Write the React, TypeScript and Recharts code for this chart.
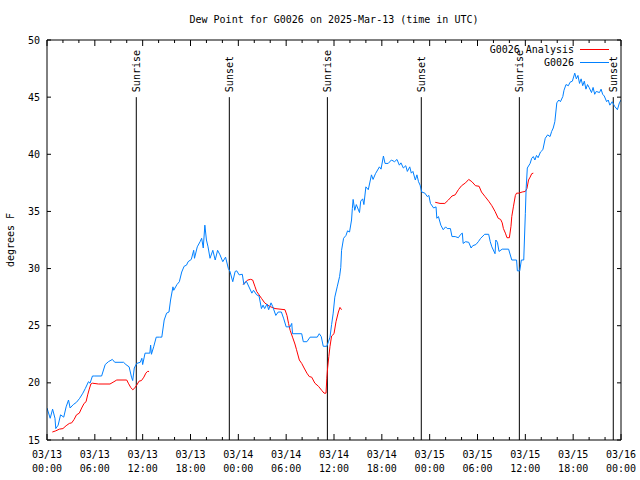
import React from 'react';
import { LineChart, Line, XAxis, YAxis, ReferenceLine, Legend, Label } from 'recharts';

const FONT = '"DejaVu Sans Mono", "Liberation Mono", monospace';

const chartTitle = 'Dew Point for G0026 on 2025-Mar-13 (time in UTC)';
const yAxisTitle = 'degrees F';

const seriesNames = ['G0026 Analysis', 'G0026'];
const seriesColors = ['#ff0000', '#0080ff'];

// x axis: hours since 2025-03-13 00:00 UTC
const xTickHours = [0, 2, 4, 6, 8, 10, 12, 14, 16, 18, 20, 22, 24, 26, 28, 30, 32, 34, 36, 38, 40, 42, 44, 46, 48, 50, 52, 54, 56, 58, 60, 62, 64, 66, 68, 70, 72];
const dateLabels = ['03/13', '03/13', '03/13', '03/13', '03/14', '03/14', '03/14', '03/14', '03/15', '03/15', '03/15', '03/15', '03/16'];
const timeLabels = ['00:00', '06:00', '12:00', '18:00', '00:00', '06:00', '12:00', '18:00', '00:00', '06:00', '12:00', '18:00', '00:00'];
const yTicks = [15, 20, 25, 30, 35, 40, 45, 50];

const eventNames = ['Sunrise', 'Sunset', 'Sunrise', 'Sunset', 'Sunrise', 'Sunset'];
const eventHours = [11.2, 22.87, 35.17, 46.95, 59.25, 71.03];

// G0026 observations
const obsHours = [
  0.0, 0.4, 0.7, 1.0, 1.1, 1.4, 1.7, 2.1, 2.4, 2.7, 2.9, 3.3, 3.7, 4.1, 4.5, 4.8, 5.2, 5.4, 5.7, 6.0,
  6.85, 7.3, 7.7, 8.2, 8.5, 9.6, 9.9, 10.3, 10.6, 10.75, 10.95, 11.25, 11.7, 11.9, 12.0, 12.3, 12.9, 13.0, 13.1, 13.4,
  13.7, 14.1, 14.4, 14.7, 15.0, 15.3, 15.5, 15.8, 15.9, 16.3, 16.6, 16.9, 17.2, 17.5, 17.7, 18.1, 18.4, 18.5, 18.85, 19.2,
  19.4, 19.6, 19.8, 20.0, 20.2, 20.45, 20.8, 21.1, 21.4, 21.7, 22.05, 22.4, 22.75, 22.95, 23.3, 23.6, 23.8, 24.1, 24.5, 24.7,
  25.0, 25.4, 25.7, 25.9, 26.3, 26.6, 26.9, 27.1, 27.3, 27.6, 27.8, 28.1, 28.3, 28.7, 29.0, 29.4, 29.7, 30.0, 30.5, 30.7,
  30.8, 31.95, 32.15, 32.6, 33.0, 33.9, 34.15, 34.4, 34.65, 35.1, 35.3, 35.5, 35.7, 35.9, 36.1, 36.4, 36.7, 36.85, 36.95, 37.2,
  37.5, 37.7, 37.95, 38.2, 38.3, 38.4, 38.6, 38.8, 39.2, 39.35, 39.6, 39.75, 40.0, 40.3, 40.7, 40.9, 41.2, 41.7, 41.9, 42.2,
  42.4, 42.8, 43.2, 43.6, 43.9, 44.2, 44.4, 44.7, 45.0, 45.2, 45.5, 45.7, 45.9, 46.2, 46.4, 46.6, 46.8, 47.0, 47.4, 47.7,
  47.9, 48.1, 48.5, 48.8, 48.9, 49.1, 49.4, 49.7, 50.0, 50.2, 50.6, 50.8, 51.2, 51.6, 51.9, 52.1, 52.2, 52.5, 52.9, 53.2,
  53.4, 53.8, 54.1, 54.4, 54.9, 55.4, 55.6, 55.8, 56.2, 56.3, 56.5, 56.7, 57.1, 57.9, 58.3, 58.9, 59.0, 59.3, 59.5, 59.8,
  60.0, 60.1, 60.25, 60.6, 60.8, 61.0, 61.2, 61.4, 61.6, 61.9, 62.2, 62.5, 62.8, 63.1, 63.3, 63.5, 63.7, 63.95, 64.2, 64.4,
  64.7, 64.85, 65.1, 65.4, 65.6, 65.9, 66.2, 66.4, 66.6, 66.8, 67.0, 67.2, 67.4, 67.6, 67.8, 68.0, 68.3, 68.5, 68.7, 68.9,
  69.3, 69.5, 69.7, 69.9, 70.2, 70.4, 70.6, 70.9, 71.2, 71.55, 71.8, 72.0,
];
const obsDew = [
  17.8, 16.9, 17.7, 16.9, 16.0, 16.3, 17.2, 17.0, 17.9, 18.5, 17.8, 18.1, 18.3, 18.65, 19.1, 19.5, 20.1, 19.97, 20.6, 20.6,
  20.6, 21.6, 21.85, 22.05, 21.8, 21.8, 21.6, 21.4, 20.5, 20.2, 21.3, 21.7, 21.8, 22.15, 21.6, 22.6, 22.6, 23.3, 22.5, 23.2,
  24.0, 24.0, 24.0, 25.5, 26.1, 26.2, 27.25, 28.4, 28.1, 28.6, 28.85, 29.7, 30.2, 30.3, 30.6, 30.8, 31.6, 30.9, 31.9, 32.35,
  32.65, 31.8, 33.8, 32.5, 31.9, 30.9, 31.6, 30.75, 31.6, 31.2, 30.6, 31.0, 30.0, 29.75, 28.85, 29.75, 29.8, 29.45, 29.5, 28.6,
  28.9, 28.3, 27.85, 28.1, 27.7, 27.6, 26.5, 26.8, 26.5, 26.9, 26.4, 27.0, 26.7, 25.9, 26.2, 26.2, 25.6, 24.9, 24.9, 25.2,
  24.3, 24.3, 23.6, 23.6, 24.0, 24.0, 24.3, 24.05, 23.2, 23.2, 23.6, 24.0, 25.1, 26.1, 27.5, 28.4, 29.3, 30.1, 31.6, 32.65,
  32.9, 33.3, 33.2, 34.25, 35.25, 36.05, 35.1, 35.6, 34.9, 35.9, 36.1, 35.6, 37.15, 36.9, 38.2, 37.8, 38.3, 38.9, 38.7, 39.85,
  39.2, 39.2, 39.5, 39.35, 39.55, 39.05, 39.25, 38.8, 39.0, 38.5, 38.9, 38.35, 38.5, 37.75, 38.2, 37.6, 37.3, 36.7, 36.6, 36.3,
  36.4, 35.7, 35.3, 35.4, 34.4, 34.55, 33.8, 33.4, 33.65, 33.5, 33.5, 32.8, 32.8, 32.7, 33.0, 33.1, 32.2, 32.35, 32.3, 31.8,
  32.0, 32.1, 32.35, 32.65, 33.0, 33.0, 32.35, 31.9, 31.3, 32.5, 32.3, 31.5, 31.7, 31.7, 30.75, 30.75, 29.8, 29.8, 30.75, 30.75,
  34.8, 37.0, 38.8, 39.2, 39.65, 39.8, 39.5, 39.9, 39.7, 40.2, 40.4, 41.4, 41.7, 41.55, 42.0, 42.3, 42.85, 44.5, 44.75, 44.6,
  45.05, 45.6, 46.1, 46.0, 46.3, 46.4, 47.1, 46.6, 46.9, 46.2, 46.6, 46.0, 46.4, 45.7, 46.1, 45.85, 45.4, 45.85, 45.25, 45.5,
  45.4, 45.7, 45.25, 45.1, 44.6, 44.75, 44.3, 44.6, 44.2, 43.9, 44.5, 44.75,
];

// G0026 Analysis (null = gap)
const anaHours = [
  0.67, 1.1, 1.55, 2.0, 2.4, 2.8, 3.1, 3.4, 3.7, 4.05, 4.35, 4.65, 4.9, 5.1, 5.3, 5.5, 5.7, 6.45, 7.9, 8.4,
  8.75, 10.0, 10.2, 10.5, 10.75, 10.95, 11.25, 11.55, 11.85, 12.15, 12.4, 12.6, 12.8, 18.0,
  24.6, 25.0, 25.2, 25.55, 25.8, 26.1, 26.3, 26.6, 26.9, 27.3, 27.9, 28.6, 29.85, 30.1, 30.3, 30.5, 30.8, 31.1, 31.3, 31.65,
  31.95, 32.25, 32.6, 32.9, 33.2, 33.6, 34.05, 34.45, 34.75, 35.0, 35.1, 35.2, 35.35, 35.5, 35.7, 36.0, 36.25, 36.55, 36.75, 36.95, 42.0,
  48.7, 49.3, 49.9, 50.35, 50.8, 51.2, 51.6, 52.0, 52.5, 52.9, 53.3, 53.75, 54.2, 54.5, 54.95, 55.4, 55.8, 56.2, 56.6, 56.9,
  57.1, 57.25, 57.5, 57.7, 58.0, 58.2, 58.3, 58.5, 58.75, 58.9, 59.2, 59.6, 60.0, 60.2, 60.4, 60.6, 60.8, 61.0,
];
const anaDew = [
  15.7, 15.8, 15.95, 16.0, 16.25, 16.45, 16.5, 16.8, 17.2, 17.35, 17.8, 18.2, 18.35, 18.95, 19.45, 19.9, 19.97, 19.9, 19.9, 20.1,
  20.25, 20.25, 19.97, 19.6, 19.4, 19.5, 19.8, 20.15, 20.2, 20.5, 20.85, 21.0, 21.0, null,
  28.6, 28.9, 29.0, 29.06, 29.0, 28.4, 28.0, 27.7, 27.4, 27.0, 26.7, 26.5, 26.4, 25.9, 25.2, 24.6, 24.0, 23.4, 22.9, 22.0,
  21.7, 21.3, 20.85, 20.55, 20.5, 19.97, 19.7, 19.35, 19.1, 19.1, 20.4, 21.3, 22.3, 23.2, 24.1, 24.3, 25.35, 26.2, 26.6, 26.4, null,
  35.8, 35.7, 35.7, 36.0, 36.35, 36.45, 36.9, 37.25, 37.5, 37.8, 37.6, 37.25, 37.2, 36.7, 36.3, 35.9, 35.5, 35.0, 34.4, 34.3,
  34.0, 33.5, 33.1, 32.7, 32.7, 33.7, 34.55, 35.4, 36.4, 36.6, 36.6, 36.7, 36.75, 37.0, 37.75, 38.0, 38.3, 38.35,
];

const obsData = obsHours.map((h, i) => ({ h, v: obsDew[i] }));
const anaData = anaHours.map((h, i) => ({ h, v: anaDew[i] }));
// invisible series that ties the mirrored (top / right) frame axes to the chart
const frameData = [{ h: 0, v: null }, { h: 72, v: null }];

const XTickBottom = (props: any) => {
  const { x, y, payload } = props;
  const h = payload.value;
  const major = h % 6 === 0;
  const i = h / 6;
  return (
    <g>
      <line x1={x} y1={y} x2={x} y2={y - (major ? 6 : 3)} stroke="#000" />
      {major && (
        <text x={x} y={y} textAnchor="middle" fontFamily={FONT} fontSize={10} fill="#000">
          <tspan x={x} dy={17.5}>{dateLabels[i]}</tspan>
          <tspan x={x} dy={14}>{timeLabels[i]}</tspan>
        </text>
      )}
    </g>
  );
};

const XTickTop = (props: any) => {
  const { x, y, payload } = props;
  const major = payload.value % 6 === 0;
  return <line x1={x} y1={y} x2={x} y2={y + (major ? 6 : 3)} stroke="#000" />;
};

const YTickLeft = (props: any) => {
  const { x, y, payload } = props;
  return (
    <g>
      <line x1={x} y1={y} x2={x + 4} y2={y} stroke="#000" />
      <text x={x - 7} y={y + 3.5} textAnchor="end" fontFamily={FONT} fontSize={10} fill="#000">
        {payload.value}
      </text>
    </g>
  );
};

const YTickRight = (props: any) => {
  const { x, y } = props;
  return <line x1={x} y1={y} x2={x - 4} y2={y} stroke="#000" />;
};

const eventShape = (name: string) => (p: any) => {
  const x = p.x1;
  const top = Math.min(p.y1, p.y2);
  const bottom = Math.max(p.y1, p.y2);
  const tx = x + 4;
  const ty = top - 5;
  return (
    <g>
      <line x1={x} y1={top} x2={x} y2={bottom} stroke="#000" strokeWidth={1} />
      <text x={tx} y={ty} transform={`rotate(-90 ${tx} ${ty})`} fontFamily={FONT} fontSize={10} fill="#000">
        {name}
      </text>
    </g>
  );
};

const LegendBox = () => (
  <div style={{ fontFamily: FONT, fontSize: 10, color: '#000' }}>
    {seriesNames.map((n, i) => (
      <div key={n} style={{ display: 'flex', justifyContent: 'flex-end', alignItems: 'center', height: 13, lineHeight: '13px' }}>
        <span style={{ whiteSpace: 'pre' }}>{n}</span>
        <svg width={35} height={13} style={{ display: 'block' }}>
          <line x1={6} y1={6.5} x2={35} y2={6.5} stroke={seriesColors[i]} strokeWidth={1} />
        </svg>
      </div>
    ))}
  </div>
);

export default function App() {
  return (
    <div style={{ position: 'absolute', left: 0, top: 0, width: 640, height: 480, background: '#fff' }}>
      <LineChart width={640} height={480} margin={{ top: 39, right: 18, bottom: 0, left: 0 }}>
        <XAxis
          xAxisId={0}
          dataKey="h"
          type="number"
          domain={[0, 72]}
          ticks={xTickHours}
          interval={0}
          allowDataOverflow
          height={40}
          tickSize={0}
          tickMargin={0}
          tickLine={false}
          tick={<XTickBottom />}
          axisLine={{ stroke: '#000' }}
        />
        <XAxis
          xAxisId="top"
          orientation="top"
          dataKey="h"
          type="number"
          domain={[0, 72]}
          ticks={xTickHours}
          interval={0}
          allowDataOverflow
          height={1}
          tickSize={0}
          tickMargin={0}
          tickLine={false}
          tick={<XTickTop />}
          axisLine={{ stroke: '#000' }}
        >
          <Label
            content={(p: any) => {
              const vb = p.viewBox || { x: 47, y: 39, width: 574, height: 1 };
              return (
                <text x={vb.x + vb.width / 2} y={vb.y + (vb.height || 0) - 17} textAnchor="middle" fontFamily={FONT} fontSize={10} fill="#000">
                  {chartTitle}
                </text>
              );
            }}
          />
        </XAxis>
        <YAxis
          yAxisId={0}
          type="number"
          domain={[15, 50]}
          ticks={yTicks}
          interval={0}
          allowDataOverflow
          width={47}
          tickSize={0}
          tickMargin={0}
          tickLine={false}
          tick={<YTickLeft />}
          axisLine={{ stroke: '#000' }}
        >
          <Label
            content={(p: any) => {
              const vb = p.viewBox || { x: 0, y: 40, height: 400 };
              const cx = 14;
              const cy = vb.y + vb.height / 2;
              return (
                <text x={cx} y={cy} transform={`rotate(-90 ${cx} ${cy})`} textAnchor="middle" fontFamily={FONT} fontSize={10} fill="#000">
                  {yAxisTitle}
                </text>
              );
            }}
          />
        </YAxis>
        <YAxis
          yAxisId="right"
          orientation="right"
          type="number"
          domain={[15, 50]}
          ticks={yTicks}
          interval={0}
          allowDataOverflow
          width={1}
          tickSize={0}
          tickMargin={0}
          tickLine={false}
          tick={<YTickRight />}
          axisLine={{ stroke: '#000' }}
        />
        {eventHours.map((h, i) => (
          <ReferenceLine
            key={i}
            segment={[{ x: h, y: 45 }, { x: h, y: 15 }]}
            shape={eventShape(eventNames[i])}
          />
        ))}
        <Line
          data={frameData}
          dataKey="v"
          xAxisId="top"
          yAxisId="right"
          stroke="none"
          dot={false}
          activeDot={false}
          legendType="none"
          isAnimationActive={false}
        />
        <Line
          data={anaData}
          dataKey="v"
          name={seriesNames[0]}
          stroke={seriesColors[0]}
          strokeWidth={1}
          dot={false}
          activeDot={false}
          type="linear"
          connectNulls={false}
          isAnimationActive={false}
        />
        <Line
          data={obsData}
          dataKey="v"
          name={seriesNames[1]}
          stroke={seriesColors[1]}
          strokeWidth={1}
          dot={false}
          activeDot={false}
          type="linear"
          isAnimationActive={false}
        />
        <Legend
          layout="horizontal"
          align="center"
          verticalAlign="middle"
          content={<LegendBox />}
          wrapperStyle={{ position: 'absolute', top: 43, right: 31, left: 'auto', width: 'auto', bottom: 'auto' }}
        />
      </LineChart>
    </div>
  );
}
